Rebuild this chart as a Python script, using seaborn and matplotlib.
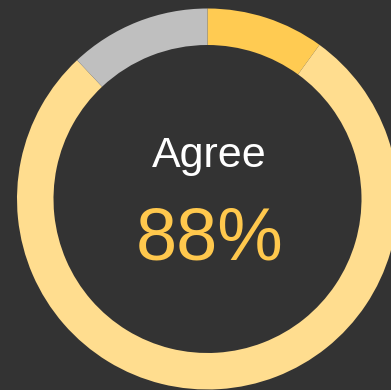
import matplotlib
matplotlib.use("Agg")
import matplotlib.pyplot as plt
import seaborn as sns

# Survey response shares (percent), clockwise from 12 o'clock
categories = ["Strongly agree", "Agree", "Disagree"]
shares = [10, 78, 12]
headline_label = "Agree"
headline_value = shares[0] + shares[1]

sns.set_theme(style="dark")
plt.rcParams["font.family"] = ["Liberation Sans", "DejaVu Sans"]

bg = "#333333"
palette = sns.color_palette(["#ffcb52", "#ffdd8f", "#bfbfbf"])

fig = plt.figure(figsize=(3.91, 3.90), dpi=100, facecolor=bg)
ax = fig.add_axes([0, 0, 1, 1])
ax.set_facecolor(bg)

outer_r = 190.5
ring_w = 36.5
cx, cy = 207.5, 191

ax.pie(
    shares,
    colors=palette,
    startangle=90,
    counterclock=False,
    center=(cx, cy),
    radius=outer_r,
    wedgeprops=dict(width=ring_w, edgecolor="none", linewidth=0),
)

ax.text(cx + 2, cy + 32, headline_label, ha="center", va="baseline",
        fontsize=31, color="white")
ax.text(cx + 2, cy - 61, f"{headline_value}%", ha="center", va="baseline",
        fontsize=53, color="#ffc84d")

ax.set_xlim(0, 391)
ax.set_ylim(0, 390)
ax.set_aspect("equal")
ax.axis("off")

fig.savefig("out.png", dpi=100, facecolor=bg)
